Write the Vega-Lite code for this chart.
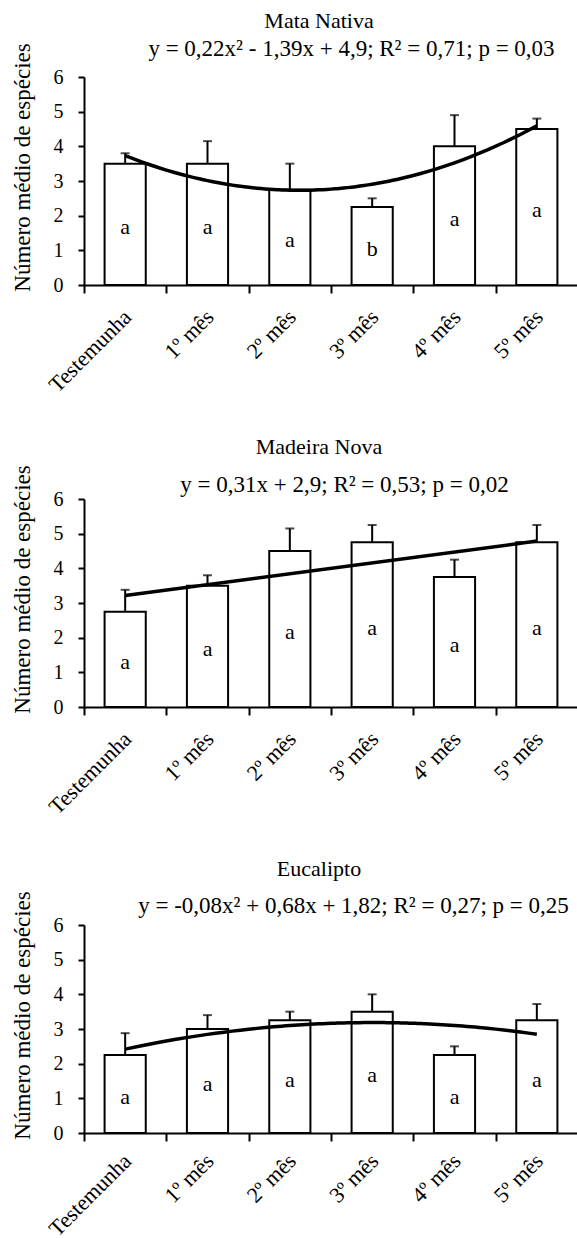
{
  "$schema": "https://vega.github.io/schema/vega-lite/v6.json",
  "padding": {"left": 10, "top": 10, "right": 0, "bottom": 0},
  "data": {
    "values": [
      {"panel": "Mata Nativa", "trat": "Testemunha", "x": 1, "mean": 3.5, "upper": 3.8, "letter": "a"},
      {"panel": "Mata Nativa", "trat": "1º mês", "x": 2, "mean": 3.5, "upper": 4.15, "letter": "a"},
      {"panel": "Mata Nativa", "trat": "2º mês", "x": 3, "mean": 2.75, "upper": 3.5, "letter": "a"},
      {"panel": "Mata Nativa", "trat": "3º mês", "x": 4, "mean": 2.25, "upper": 2.5, "letter": "b"},
      {"panel": "Mata Nativa", "trat": "4º mês", "x": 5, "mean": 4.0, "upper": 4.9, "letter": "a"},
      {"panel": "Mata Nativa", "trat": "5º mês", "x": 6, "mean": 4.5, "upper": 4.8, "letter": "a"},
      {"panel": "Madeira Nova", "trat": "Testemunha", "x": 1, "mean": 2.75, "upper": 3.38, "letter": "a"},
      {"panel": "Madeira Nova", "trat": "1º mês", "x": 2, "mean": 3.5, "upper": 3.8, "letter": "a"},
      {"panel": "Madeira Nova", "trat": "2º mês", "x": 3, "mean": 4.5, "upper": 5.15, "letter": "a"},
      {"panel": "Madeira Nova", "trat": "3º mês", "x": 4, "mean": 4.75, "upper": 5.25, "letter": "a"},
      {"panel": "Madeira Nova", "trat": "4º mês", "x": 5, "mean": 3.75, "upper": 4.25, "letter": "a"},
      {"panel": "Madeira Nova", "trat": "5º mês", "x": 6, "mean": 4.75, "upper": 5.25, "letter": "a"},
      {"panel": "Eucalipto", "trat": "Testemunha", "x": 1, "mean": 2.25, "upper": 2.88, "letter": "a"},
      {"panel": "Eucalipto", "trat": "1º mês", "x": 2, "mean": 3.0, "upper": 3.4, "letter": "a"},
      {"panel": "Eucalipto", "trat": "2º mês", "x": 3, "mean": 3.25, "upper": 3.5, "letter": "a"},
      {"panel": "Eucalipto", "trat": "3º mês", "x": 4, "mean": 3.5, "upper": 4.0, "letter": "a"},
      {"panel": "Eucalipto", "trat": "4º mês", "x": 5, "mean": 2.25, "upper": 2.5, "letter": "a"},
      {"panel": "Eucalipto", "trat": "5º mês", "x": 6, "mean": 3.25, "upper": 3.72, "letter": "a"}
    ]
  },
  "spacing": 39,
  "vconcat": [
    {
      "title": {"text": "Mata Nativa", "dx": -12, "offset": 4},
      "width": 494,
      "height": 208,
      "transform": [{"filter": "datum.panel === 'Mata Nativa'"}],
      "layer": [
        {
          "layer": [
            {
              "mark": {"type": "bar", "fill": "white", "stroke": "black", "strokeWidth": 2, "width": {"band": 0.5}},
              "encoding": {
                "x": {"field": "trat", "type": "nominal", "sort": ["Testemunha", "1º mês", "2º mês", "3º mês", "4º mês", "5º mês"], "scale": {"paddingInner": 0, "paddingOuter": 0},
                  "axis": {"title": null, "tickBand": "extent", "tickSize": 8, "labelAngle": -45, "labelAlign": "right", "labelBaseline": "top", "labelPadding": 13, "labelOffset": -5, "labelFontSize": 22, "labelFont": "Liberation Serif", "labelOverlap": false}},
                "y": {"field": "mean", "type": "quantitative", "scale": {"domain": [0, 6], "nice": false},
                  "axis": {"title": "Número médio de espécies", "values": [0, 1, 2, 3, 4, 5, 6], "tickCount": 7, "tickSize": 6, "labelPadding": 15, "labelFontSize": 20, "labelFont": "Liberation Serif", "titleFont": "Liberation Serif", "titleFontSize": 23, "titlePadding": 19, "titleY": 90, "labelOverlap": false}}
              }
            },
            {
              "mark": {"type": "rule", "color": "black", "strokeWidth": 2},
              "encoding": {
                "x": {"field": "trat", "type": "nominal", "sort": ["Testemunha", "1º mês", "2º mês", "3º mês", "4º mês", "5º mês"]},
                "y": {"field": "mean", "type": "quantitative"},
                "y2": {"field": "upper"}
              }
            },
            {
              "mark": {"type": "tick", "orient": "horizontal", "color": "black", "size": 9, "thickness": 2},
              "encoding": {
                "x": {"field": "trat", "type": "nominal", "sort": ["Testemunha", "1º mês", "2º mês", "3º mês", "4º mês", "5º mês"]},
                "y": {"field": "upper", "type": "quantitative"}
              }
            },
            {
              "transform": [{"calculate": "datum.mean / 2", "as": "mid"}],
              "mark": {"type": "text", "fontSize": 22, "font": "Liberation Serif", "color": "black", "baseline": "middle", "dy": 3},
              "encoding": {
                "x": {"field": "trat", "type": "nominal", "sort": ["Testemunha", "1º mês", "2º mês", "3º mês", "4º mês", "5º mês"]},
                "y": {"field": "mid", "type": "quantitative"},
                "text": {"field": "letter"}
              }
            }
          ]
        },
        {
          "transform": [{"regression": "mean", "on": "x", "method": "poly", "order": 2}],
          "mark": {"type": "line", "color": "black", "strokeWidth": 3.5},
          "encoding": {
            "x": {"field": "x", "type": "quantitative", "scale": {"domain": [0.5, 6.5], "nice": false, "zero": false},
              "axis": {"orient": "top", "title": "y = 0,22x² - 1,39x + 4,9; R² = 0,71; p = 0,03", "labels": false, "ticks": false, "domain": false, "grid": false, "titleX": 267, "titlePadding": 17, "titleFontSize": 23, "titleFont": "Liberation Serif"}},
            "y": {"field": "mean", "type": "quantitative",
              "axis": {"title": "Número médio de espécies", "values": [0, 1, 2, 3, 4, 5, 6], "tickCount": 7, "tickSize": 6, "labelPadding": 15, "labelFontSize": 20, "labelFont": "Liberation Serif", "titleFont": "Liberation Serif", "titleFontSize": 23, "titlePadding": 19, "titleY": 90, "labelOverlap": false}}
          }
        }
      ],
      "resolve": {"scale": {"x": "independent"}}
    },
    {
      "title": {"text": "Madeira Nova", "dx": -12, "offset": 6},
      "width": 494,
      "height": 208,
      "transform": [{"filter": "datum.panel === 'Madeira Nova'"}],
      "layer": [
        {
          "layer": [
            {
              "mark": {"type": "bar", "fill": "white", "stroke": "black", "strokeWidth": 2, "width": {"band": 0.5}},
              "encoding": {
                "x": {"field": "trat", "type": "nominal", "sort": ["Testemunha", "1º mês", "2º mês", "3º mês", "4º mês", "5º mês"], "scale": {"paddingInner": 0, "paddingOuter": 0},
                  "axis": {"title": null, "tickBand": "extent", "tickSize": 8, "labelAngle": -45, "labelAlign": "right", "labelBaseline": "top", "labelPadding": 13, "labelOffset": -5, "labelFontSize": 22, "labelFont": "Liberation Serif", "labelOverlap": false}},
                "y": {"field": "mean", "type": "quantitative", "scale": {"domain": [0, 6], "nice": false},
                  "axis": {"title": "Número médio de espécies", "values": [0, 1, 2, 3, 4, 5, 6], "tickCount": 7, "tickSize": 6, "labelPadding": 15, "labelFontSize": 20, "labelFont": "Liberation Serif", "titleFont": "Liberation Serif", "titleFontSize": 23, "titlePadding": 19, "titleY": 90, "labelOverlap": false}}
              }
            },
            {
              "mark": {"type": "rule", "color": "black", "strokeWidth": 2},
              "encoding": {
                "x": {"field": "trat", "type": "nominal", "sort": ["Testemunha", "1º mês", "2º mês", "3º mês", "4º mês", "5º mês"]},
                "y": {"field": "mean", "type": "quantitative"},
                "y2": {"field": "upper"}
              }
            },
            {
              "mark": {"type": "tick", "orient": "horizontal", "color": "black", "size": 9, "thickness": 2},
              "encoding": {
                "x": {"field": "trat", "type": "nominal", "sort": ["Testemunha", "1º mês", "2º mês", "3º mês", "4º mês", "5º mês"]},
                "y": {"field": "upper", "type": "quantitative"}
              }
            },
            {
              "transform": [{"calculate": "datum.mean / 2", "as": "mid"}],
              "mark": {"type": "text", "fontSize": 22, "font": "Liberation Serif", "color": "black", "baseline": "middle", "dy": 3},
              "encoding": {
                "x": {"field": "trat", "type": "nominal", "sort": ["Testemunha", "1º mês", "2º mês", "3º mês", "4º mês", "5º mês"]},
                "y": {"field": "mid", "type": "quantitative"},
                "text": {"field": "letter"}
              }
            }
          ]
        },
        {
          "transform": [{"regression": "mean", "on": "x", "method": "linear"}],
          "mark": {"type": "line", "color": "black", "strokeWidth": 3.5},
          "encoding": {
            "x": {"field": "x", "type": "quantitative", "scale": {"domain": [0.5, 6.5], "nice": false, "zero": false},
              "axis": {"orient": "top", "title": "y = 0,31x + 2,9; R² = 0,53; p = 0,02", "labels": false, "ticks": false, "domain": false, "grid": false, "titleX": 260, "titlePadding": 3, "titleFontSize": 23, "titleFont": "Liberation Serif"}},
            "y": {"field": "mean", "type": "quantitative",
              "axis": {"title": "Número médio de espécies", "values": [0, 1, 2, 3, 4, 5, 6], "tickCount": 7, "tickSize": 6, "labelPadding": 15, "labelFontSize": 20, "labelFont": "Liberation Serif", "titleFont": "Liberation Serif", "titleFontSize": 23, "titlePadding": 19, "titleY": 90, "labelOverlap": false}}
          }
        }
      ],
      "resolve": {"scale": {"x": "independent"}}
    },
    {
      "title": {"text": "Eucalipto", "dx": -12, "offset": 10},
      "width": 494,
      "height": 208,
      "transform": [{"filter": "datum.panel === 'Eucalipto'"}],
      "layer": [
        {
          "layer": [
            {
              "mark": {"type": "bar", "fill": "white", "stroke": "black", "strokeWidth": 2, "width": {"band": 0.5}},
              "encoding": {
                "x": {"field": "trat", "type": "nominal", "sort": ["Testemunha", "1º mês", "2º mês", "3º mês", "4º mês", "5º mês"], "scale": {"paddingInner": 0, "paddingOuter": 0},
                  "axis": {"title": null, "tickBand": "extent", "tickSize": 8, "labelAngle": -45, "labelAlign": "right", "labelBaseline": "top", "labelPadding": 9, "labelOffset": -5, "labelFontSize": 22, "labelFont": "Liberation Serif", "labelOverlap": false}},
                "y": {"field": "mean", "type": "quantitative", "scale": {"domain": [0, 6], "nice": false},
                  "axis": {"title": "Número médio de espécies", "values": [0, 1, 2, 3, 4, 5, 6], "tickCount": 7, "tickSize": 6, "labelPadding": 15, "labelFontSize": 20, "labelFont": "Liberation Serif", "titleFont": "Liberation Serif", "titleFontSize": 23, "titlePadding": 19, "titleY": 90, "labelOverlap": false}}
              }
            },
            {
              "mark": {"type": "rule", "color": "black", "strokeWidth": 2},
              "encoding": {
                "x": {"field": "trat", "type": "nominal", "sort": ["Testemunha", "1º mês", "2º mês", "3º mês", "4º mês", "5º mês"]},
                "y": {"field": "mean", "type": "quantitative"},
                "y2": {"field": "upper"}
              }
            },
            {
              "mark": {"type": "tick", "orient": "horizontal", "color": "black", "size": 9, "thickness": 2},
              "encoding": {
                "x": {"field": "trat", "type": "nominal", "sort": ["Testemunha", "1º mês", "2º mês", "3º mês", "4º mês", "5º mês"]},
                "y": {"field": "upper", "type": "quantitative"}
              }
            },
            {
              "transform": [{"calculate": "datum.mean / 2", "as": "mid"}],
              "mark": {"type": "text", "fontSize": 22, "font": "Liberation Serif", "color": "black", "baseline": "middle", "dy": 3},
              "encoding": {
                "x": {"field": "trat", "type": "nominal", "sort": ["Testemunha", "1º mês", "2º mês", "3º mês", "4º mês", "5º mês"]},
                "y": {"field": "mid", "type": "quantitative"},
                "text": {"field": "letter"}
              }
            }
          ]
        },
        {
          "transform": [{"regression": "mean", "on": "x", "method": "poly", "order": 2}],
          "mark": {"type": "line", "color": "black", "strokeWidth": 3.5},
          "encoding": {
            "x": {"field": "x", "type": "quantitative", "scale": {"domain": [0.5, 6.5], "nice": false, "zero": false},
              "axis": {"orient": "top", "title": "y = -0,08x² + 0,68x + 1,82; R² = 0,27; p = 0,25", "labels": false, "ticks": false, "domain": false, "grid": false, "titleX": 269, "titlePadding": 8, "titleFontSize": 23, "titleFont": "Liberation Serif"}},
            "y": {"field": "mean", "type": "quantitative",
              "axis": {"title": "Número médio de espécies", "values": [0, 1, 2, 3, 4, 5, 6], "tickCount": 7, "tickSize": 6, "labelPadding": 15, "labelFontSize": 20, "labelFont": "Liberation Serif", "titleFont": "Liberation Serif", "titleFontSize": 23, "titlePadding": 19, "titleY": 90, "labelOverlap": false}}
          }
        }
      ],
      "resolve": {"scale": {"x": "independent"}}
    }
  ],
  "config": {
    "font": "Liberation Serif",
    "view": {"stroke": null},
    "axis": {"domainColor": "black", "domainWidth": 2, "tickColor": "black", "tickWidth": 2, "labelColor": "black", "titleColor": "black", "labelFont": "Liberation Serif", "titleFont": "Liberation Serif", "grid": false, "titleFontWeight": "normal"},
    "axisX": {"labelFont": "Liberation Serif", "labelFontSize": 22},
    "axisY": {"labelFont": "Liberation Serif", "labelFontSize": 20, "titleFont": "Liberation Serif", "titleFontSize": 23},
    "style": {"guide-label": {"font": "Liberation Serif"}, "guide-title": {"font": "Liberation Serif"}},
    "title": {"font": "Liberation Serif", "fontSize": 22, "fontWeight": "normal", "color": "black", "anchor": "middle", "frame": "group"}
  }
}
